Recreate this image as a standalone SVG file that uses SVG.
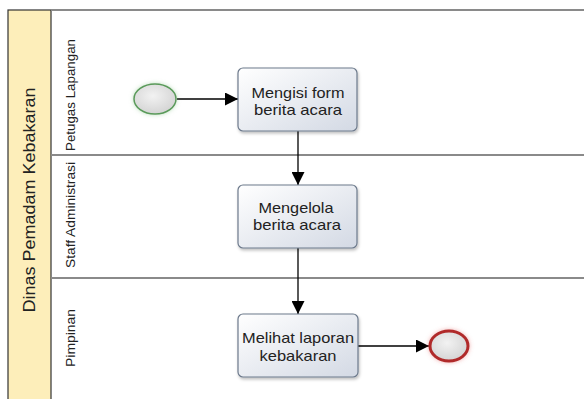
<svg xmlns="http://www.w3.org/2000/svg" width="584" height="399" viewBox="0 0 584 399">
  <defs>
    <linearGradient id="taskFill" x1="0" y1="0" x2="1" y2="1">
      <stop offset="0" stop-color="#ffffff"/>
      <stop offset="1" stop-color="#d3d9e4"/>
    </linearGradient>
    <radialGradient id="eventFill" cx="0.45" cy="0.4" r="0.6">
      <stop offset="0" stop-color="#f2f2f2"/>
      <stop offset="1" stop-color="#d4d4d4"/>
    </radialGradient>
    <filter id="shadow" x="-20%" y="-20%" width="140%" height="140%">
      <feDropShadow dx="1" dy="2" stdDeviation="1.5" flood-color="#000" flood-opacity="0.25"/>
    </filter>
    <filter id="glowGreen" x="-40%" y="-40%" width="180%" height="180%">
      <feDropShadow dx="0" dy="0" stdDeviation="2" flood-color="#7fbf7f" flood-opacity="0.5"/>
    </filter>
    <filter id="glowRed" x="-40%" y="-40%" width="180%" height="180%">
      <feDropShadow dx="0" dy="0" stdDeviation="2" flood-color="#e06060" flood-opacity="0.5"/>
    </filter>
    <marker id="arrow" viewBox="0 0 10 10" refX="10" refY="5" markerWidth="13" markerHeight="13" markerUnits="userSpaceOnUse" orient="auto">
      <path d="M0,0 L10,5 L0,10 z" fill="#000"/>
    </marker>
  </defs>
  <style>
    .lane { stroke: #8a8a8a; stroke-width: 2; fill: none; }
    .task { fill: url(#taskFill); stroke: #6d7a8c; stroke-width: 1.2; filter: url(#shadow); }
    .tlabel { font-family: "Liberation Sans", Arial, sans-serif; font-size: 15px; fill: #222; text-anchor: middle; }
    .lanelabel { font-family: "Liberation Sans", Arial, sans-serif; font-size: 12px; fill: #222; text-anchor: middle; }
    .flow { stroke: #000; stroke-width: 1.3; fill: none; marker-end: url(#arrow); }
  </style>

  <rect width="584" height="399" fill="#ffffff"/>

  <!-- pool -->
  <g id="pool">
    <rect x="8" y="10" width="43" height="392" fill="#fdeeba" stroke="#333" stroke-width="1.2"/>
    <text class="lanelabel" transform="translate(35,200) rotate(-90)" style="font-size:16px" textLength="225" lengthAdjust="spacingAndGlyphs">Dinas Pemadam Kebakaran</text>
    <line class="lane" x1="51" y1="10" x2="584" y2="10"/>
  </g>

  <!-- lanes -->
  <g id="lane-petugas">
    <line class="lane" x1="51" y1="155" x2="584" y2="155"/>
    <text class="lanelabel" transform="translate(75,95) rotate(-90)" textLength="112" lengthAdjust="spacingAndGlyphs">Petugas Lapangan</text>
  </g>
  <g id="lane-staff">
    <line class="lane" x1="51" y1="278" x2="584" y2="278"/>
    <text class="lanelabel" transform="translate(75,215) rotate(-90)" textLength="106" lengthAdjust="spacingAndGlyphs">Staff Administrasi</text>
  </g>
  <g id="lane-pimpinan">
    <text class="lanelabel" transform="translate(75,338) rotate(-90)" textLength="58" lengthAdjust="spacingAndGlyphs">Pimpinan</text>
  </g>

  <!-- connectors -->
  <g id="connectors">
    <line class="flow" x1="177" y1="99" x2="238" y2="99"/>
    <line class="flow" x1="298" y1="131" x2="298" y2="185"/>
    <line class="flow" x1="298" y1="248" x2="298" y2="314"/>
    <line class="flow" x1="358" y1="346" x2="429" y2="346"/>
  </g>

  <!-- nodes -->
  <g id="start">
    <ellipse cx="155" cy="99" rx="21" ry="15" fill="url(#eventFill)" stroke="#5a9a5a" stroke-width="1.5" filter="url(#glowGreen)"/>
  </g>
  <g id="task-mengisi">
    <rect class="task" x="238" y="68" width="119" height="63" rx="5"/>
    <text class="tlabel" x="298" y="98" textLength="93" lengthAdjust="spacingAndGlyphs">Mengisi form</text>
    <text class="tlabel" x="298" y="115" textLength="88" lengthAdjust="spacingAndGlyphs">berita acara</text>
  </g>
  <g id="task-mengelola">
    <rect class="task" x="238" y="185" width="119" height="63" rx="5"/>
    <text class="tlabel" x="296" y="213" textLength="75" lengthAdjust="spacingAndGlyphs">Mengelola</text>
    <text class="tlabel" x="297" y="230" textLength="88" lengthAdjust="spacingAndGlyphs">berita acara</text>
  </g>
  <g id="task-melihat">
    <rect class="task" x="238" y="314" width="120" height="63" rx="5"/>
    <text class="tlabel" x="298" y="343" textLength="112" lengthAdjust="spacingAndGlyphs">Melihat laporan</text>
    <text class="tlabel" x="298" y="361" textLength="77" lengthAdjust="spacingAndGlyphs">kebakaran</text>
  </g>
  <g id="end">
    <ellipse cx="449" cy="346" rx="19" ry="15" fill="url(#eventFill)" stroke="#b02a2a" stroke-width="3" filter="url(#glowRed)"/>
  </g>
</svg>
